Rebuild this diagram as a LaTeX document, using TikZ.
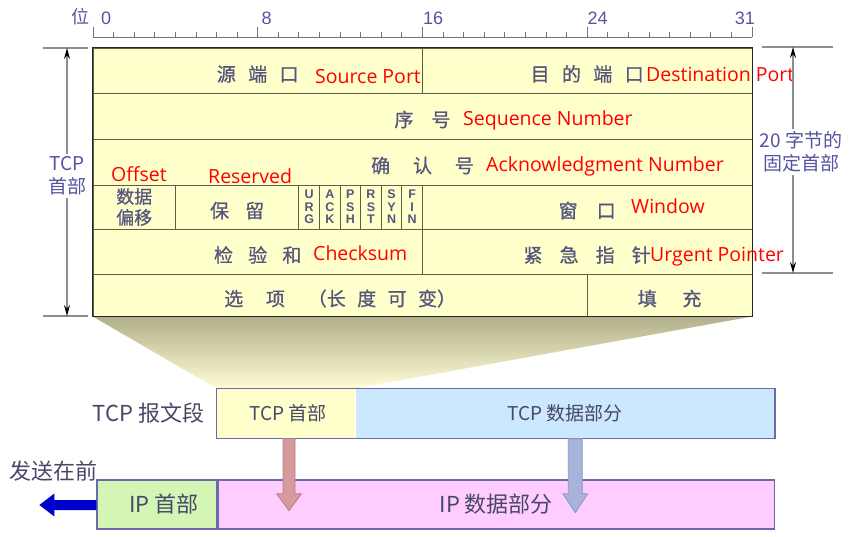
\documentclass[tikz,border=0pt]{standalone}
\usepackage{fontspec}
\setmainfont{Open Sans}
\newfontfamily\cjk{Noto Sans CJK SC}
\newfontfamily\cjkbold[FakeBold=0.8]{Noto Sans CJK SC}
\newfontfamily\arialfont{Liberation Sans}
\usetikzlibrary{positioning,arrows.meta,calc,backgrounds}
\definecolor{cellfill}{HTML}{FFFFCC}
\definecolor{cellline}{HTML}{5E5E40}
\definecolor{zhtext}{HTML}{55557E}
\definecolor{rulerblue}{HTML}{5454A0}
\definecolor{dimgray}{HTML}{8E8E8E}
\definecolor{segline}{HTML}{6A6AA8}
\definecolor{segtext}{HTML}{474768}
\definecolor{tcphfill}{HTML}{FFFFCC}
\definecolor{tcpdfill}{HTML}{CCE8FF}
\definecolor{iphfill}{HTML}{D4F6B4}
\definecolor{ipdfill}{HTML}{FFCCFF}
\definecolor{redfill}{HTML}{D69A9C}
\definecolor{redline}{HTML}{B98088}
\definecolor{bluefill}{HTML}{A8B3DA}
\definecolor{blueline}{HTML}{8A98C8}
\definecolor{sendblue}{HTML}{0000CC}
\definecolor{fantop}{HTML}{B2B08A}
\definecolor{fanbottom}{HTML}{FFFDD5}
\newcommand{\gp}[1]{\hspace{#1em}}
\tikzset{
  cell/.style={rectangle, draw=cellline, fill=cellfill, line width=0.9pt, inner sep=0pt},
  zh/.style={cell, text=zhtext, font=\cjkbold\fontsize{19}{19}\selectfont, text height=24pt, text depth=2.5pt},
  flagtxt/.style={text=zhtext, align=center, font=\arialfont\bfseries\fontsize{12.5}{12.5}\selectfont},
  en/.style={anchor=base west, inner sep=0pt, text=red, font=\fontsize{19.5}{19.5}\selectfont},
  tick/.style={draw=black!55, line width=0.9pt},
  num/.style={anchor=base west, inner sep=0pt, text=rulerblue, font=\arialfont\fontsize{18}{18}\selectfont},
  side/.style={inner sep=2pt, text=rulerblue, align=center, font=\cjk\fontsize{19}{23}\selectfont},
  dim/.style={draw=dimgray, line width=1.3pt, -{Stealth[length=11pt,width=6pt,color=black]}},
  ext/.style={draw=dimgray, line width=1.6pt},
  seg/.style={rectangle, draw=segline, line width=1.3pt, inner sep=0pt, minimum height=49pt, text=segtext},
  segframe/.style={draw=segline, line width=1.3pt},
  lbl/.style={inner sep=0pt, text=segtext, font=\cjk\fontsize{22}{22}\selectfont}
}
\begin{document}
\begin{tikzpicture}[x=1pt,y=-1pt]
  \useasboundingbox (0,0) rectangle (854,537);

  % header table
  \node[zh, minimum width=329.4pt, minimum height=45pt] (src) at (257.7,70.5) {源\gp{0.65}端\gp{0.65}口};
  \node[zh, minimum width=329.6pt, minimum height=45pt] (dst) at (587.2,70.5) {目\gp{0.65}的\gp{0.65}端\gp{0.65}口};
  \node[zh, minimum width=659pt, minimum height=46pt] (seq) at (422.5,116) {序\gp{0.95}号};
  \node[zh, minimum width=659pt, minimum height=46pt] (ack) at (422.5,162) {确\gp{1.2}认\gp{1.2}号};
  \node[cell, text=zhtext, align=center, font=\cjkbold\fontsize{18}{21}\selectfont,
        minimum width=82.4pt, minimum height=44pt] (off) at (134.2,207) {数据\\偏移};
  \node[zh, minimum width=123.5pt, minimum height=44pt] (rsv) at (237.15,207) {保\gp{0.85}留};
  \foreach \fa/\fb/\fc [count=\i from 0] in {U/R/G,A/C/K,P/S/H,R/S/T,S/Y/N,F/I/N}
    \node[cell, flagtxt, minimum width=20.594pt, minimum height=44pt] (flag\i) at ({298.9+20.594*(\i+0.5)},207) {\fa\\\fb\\\fc};
  \node[zh, minimum width=329.6pt, minimum height=44pt] (win) at (587.2,207) {窗\gp{1}口};
  \node[zh, minimum width=329.4pt, minimum height=45pt] (chk) at (257.7,251.5) {检\gp{0.8}验\gp{0.8}和};
  \node[zh, minimum width=329.6pt, minimum height=45pt] (urg) at (587.2,251.5) {紧\gp{0.9}急\gp{0.9}指\gp{0.9}针};
  \node[zh, minimum width=494.2pt, minimum height=42pt] (opt) at (340.1,295) {选\gp{1.2}项\gp{1.2}（长\gp{0.6}度\gp{0.6}可\gp{0.6}变）};
  \node[zh, minimum width=164.8pt, minimum height=42pt] (pad) at (669.6,295) {填\gp{1.35}充};
  \draw[line width=1.8pt, black!85] (src.north west) rectangle (pad.south east);

  % english names
  \node[en] (srcen) at (315,84) {Source Port};
  \node[en] (dsten) at (646,82) {Destination Port};
  \node[en] (seqen) at (463,126) {Sequence Number};
  \node[en] (acken) at (486,172) {Acknowledgment Number};
  \node[en] (offen) at (111,182) {Offset};
  \node[en] (rsven) at (208,184) {Reserved};
  \node[en] (winen) at (631,214) {Window};
  \node[en] (chken) at (313,261) {Checksum};
  \node[en] (urgen) at (650,262) {Urgent Pointer};

  % bit ruler
  \draw[tick] (93,37) -- (752,37);
  \foreach \i in {0,...,32}
    \draw[tick] ({93+20.594*\i},37) -- ++(0,-5);
  \foreach \i in {0,8,16,24,32}
    \draw[tick] ({93+20.594*\i},37) -- ++(0,-10);
  \node[num] (b0) at (101,25) {0};
  \node[num] (b8) at (261.5,25) {8};
  \node[num] (b16) at (423,25) {16};
  \node[num] (b24) at (587.5,25) {24};
  \node[num, anchor=base east] (b31) at (755,25) {31};
  \node[inner sep=0pt, anchor=base, text=rulerblue, font=\cjk\fontsize{18}{18}\selectfont] (wei) at (80,24) {位};

  % dimension lines
  \draw[ext] (43,48) -- (88,48);
  \draw[ext] (43,316) -- (88,316);
  \coordinate (ltop) at (67,48);
  \coordinate (lbot) at (67,316);
  \node[side] (tcplab) at (67,176) {TCP\\首部};
  \draw[dim] (tcplab.north) -- (ltop);
  \draw[dim] (tcplab.south) -- (lbot);
  \draw[ext] (762,47) -- (833,47);
  \draw[ext] (762,273) -- (833,273);
  \coordinate (rtop) at (793,47);
  \coordinate (rbot) at (793,273);
  \node[side] (fixlab) at (801,152) {20 字节的\\固定首部};
  \draw[dim] (rtop |- fixlab.north) -- (rtop);
  \draw[dim] (rbot |- fixlab.south) -- (rbot);

  % segment and datagram
  \node[seg, draw=none, fill=tcphfill, minimum width=138pt, font=\cjk\fontsize{19}{19}\selectfont] (tcph) at (286,413.5) {\hspace{4pt}TCP 首部};
  \node[seg, draw=none, fill=tcpdfill, minimum width=418pt, font=\cjk\fontsize{19}{19}\selectfont, right=0pt of tcph] (tcpd) {TCP 数据部分\hspace{8pt}};
  \draw[segframe] (tcph.north west) rectangle (tcpd.south east);
  \node[lbl, left=12pt of tcph] (tcpseg) {TCP 报文段};
  \node[seg, fill=iphfill, minimum width=120pt, font=\cjk\fontsize{22}{22}\selectfont] (iph) at (157,504.5) {\hspace{14pt}IP 首部};
  \node[seg, fill=ipdfill, minimum width=556pt, font=\cjk\fontsize{22}{22}\selectfont, right=0pt of iph] (ipd) {IP 数据部分\hspace{36pt}};
  \node[lbl] (send) at (53.5,471) {发送在前};

  \begin{scope}[on background layer]
    \shade[top color=fantop, bottom color=fanbottom] (opt.south west) -- (pad.south east) -- (tcph.north east) -- (tcph.north west) -- cycle;
  \end{scope}

  % fat arrows
  \coordinate (hdrdown) at ($(tcph.south)+(3,0)$);
  \coordinate (datadown) at ($(tcpd.south)+(10,0)$);
  \draw[fill=redfill, draw=redline, line width=0.8pt] (hdrdown) ++(-6,0) -- ++(0,55) -- ++(-6.5,0) -- ++(12.5,17) -- ++(12.5,-17) -- ++(-6.5,0) -- ++(0,-55) -- cycle;
  \draw[fill=bluefill, draw=blueline, line width=0.8pt] (datadown) ++(-7,0) -- ++(0,55) -- ++(-5.5,0) -- ++(12.5,19) -- ++(12.5,-19) -- ++(-5.5,0) -- ++(0,-55) -- cycle;
  \fill[sendblue] (iph.west) ++(0,-4.5) -- ++(-42,0) -- ++(0,-6.5) -- ++(-15,11.5) -- ++(15,11.5) -- ++(0,-6.5) -- ++(42,0) -- cycle;
\end{tikzpicture}
\end{document}
